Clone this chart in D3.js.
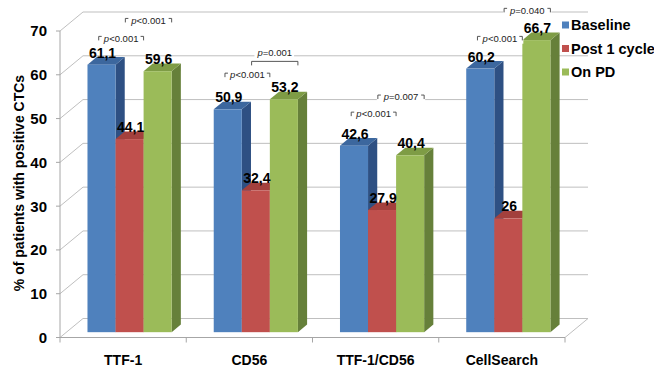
<!DOCTYPE html>
<html>
<head>
<meta charset="utf-8">
<script src="https://cdn.jsdelivr.net/npm/d3@7"></script>
<style>
  body { margin: 0; background: #fff; }
  text { font-family: "Liberation Sans", Arial, sans-serif; }
</style>
</head>
<body>
<div id="wrapper"></div>
<script>
// data
const categories = ["TTF-1", "CD56", "TTF-1/CD56", "CellSearch"];
const seriesNames = ["Baseline", "Post 1 cycle", "On PD"];
const baseline = [61.1, 50.9, 42.6, 60.2];
const post1 = [44.1, 32.4, 27.9, 26];
const onPD = [59.6, 53.2, 40.4, 66.7];
const yTicks = [0, 10, 20, 30, 40, 50, 60, 70];

// p-values: baseline vs post 1 cycle, baseline vs on PD
const pSmall = ["p<0.001", "p<0.001", "p<0.001", "p<0.001"];
const pLarge = ["p<0.001", "p=0.001", "p=0.007", "p=0.040"];
const pSmallLevel = [67.1, 58.7, 49.8, 67.1];
const pLargeLevel = [71.2, 63.9, 53.7, 73.5];

const seriesValues = [baseline, post1, onPD];

var dim = {
    width: 654,
    height: 368,
    left: 60,
    right: 565,
    bottom: 337.5,
    top: 31,
    depthX: 23,
    depthY: 19,
    barFront: 0.28,
    barDepth: 0.40
};

var colors = {
    front: ["#4F81BD", "#C0504D", "#9BBB59"],
    side:  ["#2E5083", "#8A3634", "#66803A"],
    top:   ["#3C679E", "#A3403D", "#7E9C45"]
};

const svg = d3.select("#wrapper")
    .append("svg")
    .attr("width", dim.width)
    .attr("height", dim.height);

const yScale = d3.scaleLinear()
    .domain([0, 70])
    .range([dim.bottom, dim.top]);

const xScale = d3.scaleBand()
    .domain(categories)
    .range([dim.left, dim.right]);

const xInner = d3.scaleBand()
    .domain(seriesNames)
    .range([0, xScale.bandwidth()])
    .paddingOuter(0.75);

const gridColor = "#BFBFBF";
const axisColor = "#A6A6A6";

// walls: side diagonals + back gridlines
const walls = svg.append("g");
yTicks.forEach(t => {
    var y = yScale(t);
    walls.append("line")
        .attr("x1", dim.left).attr("y1", y)
        .attr("x2", dim.left + dim.depthX).attr("y2", y - dim.depthY)
        .attr("stroke", gridColor);
    walls.append("line")
        .attr("x1", dim.left + dim.depthX).attr("y1", y - dim.depthY)
        .attr("x2", dim.right + dim.depthX).attr("y2", y - dim.depthY)
        .attr("stroke", gridColor);
});
// floor
walls.append("line")
    .attr("x1", dim.right).attr("y1", dim.bottom)
    .attr("x2", dim.right + dim.depthX).attr("y2", dim.bottom - dim.depthY)
    .attr("stroke", gridColor);
walls.append("line")
    .attr("x1", dim.left).attr("y1", dim.bottom)
    .attr("x2", dim.right).attr("y2", dim.bottom)
    .attr("stroke", axisColor);
walls.append("line")
    .attr("x1", dim.left).attr("y1", dim.top)
    .attr("x2", dim.left).attr("y2", dim.bottom)
    .attr("stroke", axisColor);

// y ticks
const yAxis = svg.append("g");
yTicks.forEach(t => {
    yAxis.append("line")
        .attr("x1", dim.left - 4).attr("x2", dim.left)
        .attr("y1", yScale(t)).attr("y2", yScale(t))
        .attr("stroke", axisColor);
    yAxis.append("text")
        .attr("x", 47)
        .attr("y", yScale(t))
        .attr("dy", "0.36em")
        .attr("text-anchor", "end")
        .style("font-size", "15px")
        .style("font-weight", "bold")
        .text(t);
});

// x ticks + labels
const xAxis = svg.append("g");
d3.range(categories.length + 1).forEach(i => {
    var x = dim.left + i * xScale.step();
    xAxis.append("line")
        .attr("x1", x).attr("x2", x)
        .attr("y1", dim.bottom).attr("y2", dim.bottom + 5)
        .attr("stroke", axisColor);
});
xAxis.selectAll("text")
    .data(categories)
    .enter()
    .append("text")
    .attr("x", d => xScale(d) + xScale.bandwidth() / 2)
    .attr("y", 365)
    .attr("text-anchor", "middle")
    .style("font-size", "14px")
    .style("font-weight", "bold")
    .text(d => d);

// y title
svg.append("text")
    .attr("transform", "translate(24,183) rotate(-90)")
    .attr("text-anchor", "middle")
    .style("font-size", "14px")
    .style("font-weight", "bold")
    .text("% of patients with positive CTCs");

// 3D bars
const fdx = dim.depthX * dim.barFront, fdy = dim.depthY * dim.barFront;
const ddx = dim.depthX * dim.barDepth, ddy = dim.depthY * dim.barDepth;
const bw = xInner.bandwidth();

var bars = [];
categories.forEach((c, ci) => {
    seriesNames.forEach((s, si) => {
        bars.push({cat: c, ci: ci, series: s, si: si, value: seriesValues[si][ci]});
    });
});

function barX(d) { return xScale(d.cat) + xInner(d.series) + fdx; }
function barTop(d) { return yScale(d.value) - fdy; }
const barBase = yScale(0) - fdy;

const barG = svg.append("g")
    .selectAll("g")
    .data(bars)
    .enter()
    .append("g");

barG.append("path")
    .attr("fill", d => colors.side[d.si])
    .attr("d", d => {
        var x = barX(d) + bw, t = barTop(d);
        return `M${x},${barBase}L${x},${t}L${x + ddx},${t - ddy}L${x + ddx},${barBase - ddy}Z`;
    });
barG.append("path")
    .attr("fill", d => colors.top[d.si])
    .attr("d", d => {
        var x = barX(d), t = barTop(d);
        return `M${x},${t}L${x + bw},${t}L${x + bw + ddx},${t - ddy}L${x + ddx},${t - ddy}Z`;
    });
barG.append("rect")
    .attr("x", d => barX(d))
    .attr("y", d => barTop(d))
    .attr("width", bw)
    .attr("height", d => barBase - barTop(d))
    .attr("fill", d => colors.front[d.si]);

// value labels
svg.append("g")
    .selectAll("text")
    .data(bars)
    .enter()
    .append("text")
    .attr("x", d => barX(d) + bw / 2 + 1)
    .attr("y", d => barTop(d) - 7)
    .attr("text-anchor", "middle")
    .style("font-size", "14px")
    .style("font-weight", "bold")
    .text(d => String(d.value).replace(".", ","));

// p-value annotations
const annot = svg.append("g");
function pText(g, x, y, label) {
    var t = g.append("text")
        .attr("x", x)
        .attr("y", y)
        .attr("dy", "0.35em")
        .attr("text-anchor", "middle")
        .style("font-size", "9.5px")
        .style("fill", "#222");
    t.append("tspan").style("font-style", "italic").text(label[0]);
    t.append("tspan").text(label.slice(1));
    return t;
}
function addBracket(ci, label, level, from, to, below) {
    var g = annot.append("g");
    var base = xScale(categories[ci]) + xInner(seriesNames[0]) + fdx;
    var x0 = base + from * bw, x1 = base + to * bw;
    var y = yScale(level) - fdy;
    var bg = g.append("rect").attr("fill", "#fff");
    var t = pText(g, (x0 + x1) / 2, y, label);
    var box = t.node().getBBox();
    var path;
    if (below) {
        var yb = y + 9;
        path = `M${x0},${yb + 4}V${yb}H${x1}V${yb + 4}`;
        bg.attr("x", box.x - 2).attr("y", box.y)
          .attr("width", box.width + 4).attr("height", box.height);
    } else {
        var yc = y - 2;
        path = `M${x0},${yc + 4}V${yc}H${x0 + 3}M${x1 - 3},${yc}H${x1}V${yc + 4}`;
        bg.attr("x", x0 - 1).attr("y", box.y)
          .attr("width", x1 - x0 + 2).attr("height", box.height);
    }
    g.append("path")
        .attr("d", path)
        .attr("fill", "none")
        .attr("stroke", "#444")
        .attr("stroke-width", 0.9);
}
categories.forEach((c, ci) => {
    addBracket(ci, pSmall[ci], pSmallLevel[ci], 0.4, 2.0, false);
    addBracket(ci, pLarge[ci], pLargeLevel[ci], 1.35, 3.0, ci === 1);
});

// legend
const legend = svg.append("g")
    .selectAll("g")
    .data(seriesNames)
    .enter()
    .append("g")
    .attr("transform", (d, i) => `translate(562,${25 + i * 23.5})`);
legend.append("rect")
    .attr("x", 0).attr("y", -3.5)
    .attr("width", 7).attr("height", 7)
    .attr("fill", (d, i) => colors.front[i]);
legend.append("text")
    .attr("x", 9)
    .attr("dy", "0.36em")
    .style("font-size", "14.5px")
    .style("font-weight", "bold")
    .text(d => d);
</script>
</body>
</html>
